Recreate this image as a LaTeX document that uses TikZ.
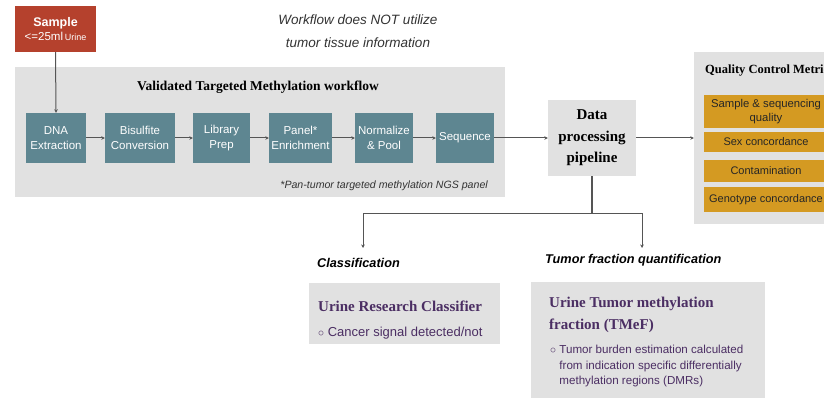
\documentclass[tikz,border=0pt]{standalone}
\usepackage{fontspec}
\setmainfont{Liberation Serif}
\setsansfont{Liberation Sans}
\usetikzlibrary{arrows.meta,positioning,backgrounds}
\definecolor{samplered}{HTML}{B5412D}
\definecolor{stepteal}{HTML}{5E8691}
\definecolor{panelgray}{HTML}{E1E1E1}
\definecolor{qcgold}{HTML}{D49A22}
\definecolor{titlepurple}{HTML}{4B2E63}
\definecolor{linegray}{HTML}{555555}

\begin{document}
\begin{tikzpicture}[
  font=\sffamily,
  x=1pt, y=-1pt,
  samplebox/.style={fill=samplered, minimum width=81pt, minimum height=46pt, align=center, text=white, inner sep=0pt},
  panel/.style={fill=panelgray, inner sep=0pt},
  stepbox/.style={fill=stepteal, minimum height=50pt, align=center, text=white, inner sep=0pt, font=\sffamily\fontsize{11.5}{15}\selectfont},
  qcbox/.style={fill=qcgold, minimum width=124pt, align=center, inner sep=0pt, text=black!85, font=\sffamily\fontsize{11}{13}\selectfont},
  boxtitle/.style={font=\rmfamily\bfseries\fontsize{13.5}{21.5}\selectfont, inner sep=0pt, align=left},
  note/.style={font=\sffamily\itshape\fontsize{13.5}{23}\selectfont, inner sep=0pt, align=center, text=black!80},
  branch/.style={font=\sffamily\bfseries\itshape\fontsize{12.7}{14}\selectfont, inner sep=0pt},
  bullet/.style={font=\sffamily\fontsize{11.6}{15.5}\selectfont, inner sep=0pt, align=left, text=titlepurple},
  arrow/.style={-{Stealth[length=3.5pt,width=3.5pt]}, linegray, line width=1pt},
  link/.style={linegray, line width=1.5pt}
]
\clip (0,0) rectangle (824,398);
\fill[white] (0,0) rectangle (824,398);

% sample and note
\node[samplebox] (smp) at (55.5,29) {\textbf{\fontsize{12.5}{16}\selectfont Sample}\\[2pt]{\fontsize{11.5}{13}\selectfont <=25ml}\,{\fontsize{9}{13}\selectfont Urine}};
\node[note] (nt) at (358,31.5) {Workflow does NOT utilize\\tumor tissue information};

% workflow panel
\node[panel, minimum width=490pt, minimum height=130pt] (wf) at (260,132) {};
\node[boxtitle] (wft) at (258,87) {Validated Targeted Methylation workflow};
\node[stepbox, minimum width=60pt] (dna) at (56,138) {DNA\\Extraction};
\node[stepbox, minimum width=70pt] (bis) at (140,138) {Bisulfite\\Conversion};
\node[stepbox, minimum width=57pt] (lib) at (221.5,138) {Library\\Prep};
\node[stepbox, minimum width=63pt] (pan) at (300.5,138) {Panel*\\Enrichment};
\node[stepbox, minimum width=58pt] (nrm) at (384,138) {Normalize\\\& Pool};
\node[stepbox, minimum width=58pt] (seq) at (465,138) {Sequence};
\node[font=\sffamily\itshape\fontsize{10.6}{12}\selectfont, anchor=east, inner sep=0pt, text=black!80] (fn) at (488,186) {*Pan-tumor targeted methylation NGS panel};

% data processing
\node[panel, minimum width=88pt, minimum height=76pt, boxtitle, align=center, font=\rmfamily\bfseries\fontsize{15}{21.5}\selectfont] (dat) at (592,138) {Data\\processing\\pipeline};

% quality control
\node[panel, minimum width=142pt, minimum height=172pt] (qc) at (765,138) {};
\node[boxtitle, anchor=west, font=\rmfamily\bfseries\fontsize{12.5}{15}\selectfont] (qct) at (705,71) {Quality Control Metrics};
\node[qcbox, minimum height=33pt, font=\sffamily\fontsize{11.3}{14}\selectfont] (q1) at (766,111.5) {Sample \& sequencing\\quality};
\node[qcbox, minimum height=20pt] (q2) at (766,142) {Sex concordance};
\node[qcbox, minimum height=22pt] (q3) at (766,171) {Contamination};
\node[qcbox, minimum height=25pt] (q4) at (766,199.5) {Genotype concordance};

% outputs
\node[branch, anchor=west] (clsl) at (317,263) {Classification};
\node[branch, anchor=west] (tfql) at (545,260) {Tumor fraction quantification};
\node[panel, minimum width=191pt, minimum height=61pt] (cls) at (404.5,313.5) {};
\node[boxtitle, anchor=west, text=titlepurple, font=\rmfamily\bfseries\fontsize{15}{16}\selectfont] (clst) at (318,306) {Urine Research Classifier};
\node[bullet, anchor=west, font=\sffamily\fontsize{13}{15}\selectfont] (clsb) at (318,333) {$\circ$ Cancer signal detected/not};
\node[panel, minimum width=234pt, minimum height=130pt] (tmf) at (648,347) {};
\node[boxtitle, anchor=north west, text=titlepurple, font=\rmfamily\bfseries\fontsize{15}{22}\selectfont] (tmft) at (549,297) {Urine Tumor methylation\\fraction (TMeF)};
\node[bullet, anchor=north west] (tmfb) at (550,345) {$\circ$ Tumor burden estimation calculated\\\phantom{$\circ$ }from indication specific differentially\\\phantom{$\circ$ }methylation regions (DMRs)};

\coordinate (split) at (592,213);
\coordinate (clsin) at (363,248);
\coordinate (tfqin) at (642,248);

\draw[arrow] (smp.south) -- (dna.north);
\draw[arrow] (dna) -- (bis);
\draw[arrow] (bis) -- (lib);
\draw[arrow] (lib) -- (pan);
\draw[arrow] (pan) -- (nrm);
\draw[arrow] (nrm) -- (seq);
\draw[arrow] (seq) -- (dat);
\draw[arrow] (dat) -- (qc);
\draw[link] (dat.south) -- (split);
\draw[arrow] (split) -| (clsin);
\draw[arrow] (split) -| (tfqin);
\end{tikzpicture}
\end{document}
